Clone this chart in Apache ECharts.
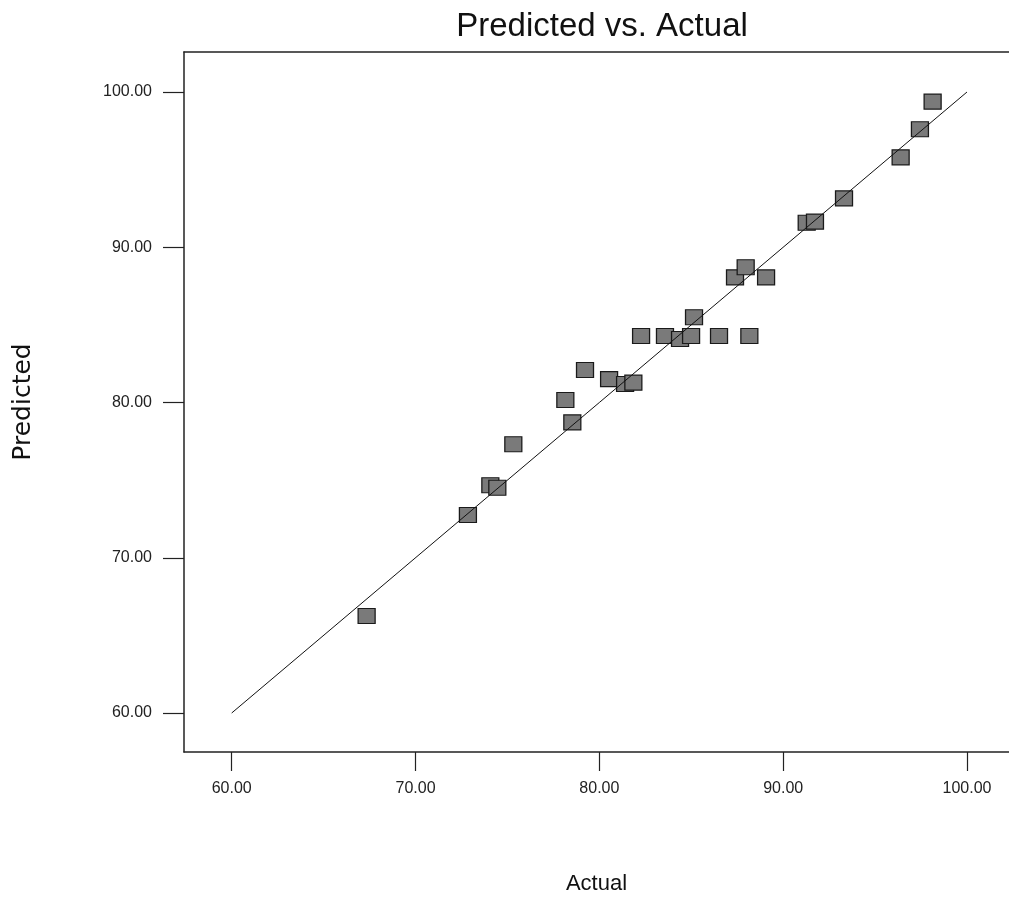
<!DOCTYPE html>
<html>
<head>
<meta charset="utf-8">
<title>Predicted vs. Actual</title>
<script src="https://cdn.jsdelivr.net/npm/echarts@6/dist/echarts.min.js"></script>
<style>
html, body { margin: 0; padding: 0; background: #fff; }
#chart { width: 1009px; height: 902px; }
</style>
</head>
<body>
<div id="chart"></div>
<script>
// values
const actual = [67.34, 72.85, 74.07, 74.45, 75.32, 78.15, 78.53, 79.22, 80.53, 81.40, 81.85,
  82.27, 83.57, 84.39, 84.99, 85.15, 86.51, 88.16, 87.38, 87.96, 89.07,
  91.28, 91.73, 93.31, 96.39, 97.44, 98.13]
const predicted = [66.25, 72.75, 74.67, 74.51, 77.31, 80.16, 78.72, 82.09, 81.51, 81.19, 81.28,
  84.28, 84.28, 84.09, 84.28, 85.49, 84.28, 84.28, 88.06, 88.71, 88.06,
  91.58, 91.65, 93.15, 95.79, 97.60, 99.38]
const tickValues = [60, 70, 80, 90, 100]
const fitLine = [60, 100]

const chart = echarts.init(document.getElementById('chart'))

const points = actual.map((a, i) => [a, predicted[i]])
const linePoints = fitLine.map(v => [v, v])

const labelFont = 'Liberation Sans, Arial, sans-serif'
const fmt = v => Number(v).toFixed(2)

const option = {
  backgroundColor: '#fff',
  animation: false,
  title: {
    text: 'Predicted vs. Actual',
    left: 597,
    top: 5,
    textAlign: 'center',
    textStyle: { fontFamily: labelFont, fontSize: 33, fontWeight: 'normal', color: '#111' }
  },
  grid: { left: 184, top: 52, right: 0, bottom: 150, containLabel: false },
  xAxis: [
    {
      type: 'value',
      min: 57.405,
      max: 102.285,
      name: 'Actual',
      nameLocation: 'middle',
      nameGap: 121,
      nameTextStyle: { fontFamily: labelFont, fontSize: 22, color: '#111' },
      axisLine: { onZero: false, lineStyle: { color: '#222', width: 1.5 } },
      axisTick: { show: true, length: 19, customValues: tickValues, lineStyle: { color: '#222', width: 1.2 } },
      axisLabel: { customValues: tickValues, margin: 29, formatter: fmt, fontFamily: labelFont, fontSize: 16, color: '#222' },
      splitLine: { show: false }
    },
    {
      type: 'value',
      position: 'top',
      min: 57.405,
      max: 102.285,
      axisLine: { show: true, onZero: false, lineStyle: { color: '#222', width: 1.5 } },
      axisTick: { show: false },
      axisLabel: { show: false },
      splitLine: { show: false }
    }
  ],
  yAxis: {
    type: 'value',
    min: 57.488,
    max: 102.577,
    name: 'Predicted',
    nameLocation: 'middle',
    nameGap: 148,
    nameTextStyle: { fontFamily: 'DejaVu Sans, sans-serif', fontSize: 25, color: '#111' },
    axisLine: { show: true, onZero: false, lineStyle: { color: '#222', width: 1.5 } },
    axisTick: { show: true, length: 21, customValues: tickValues, lineStyle: { color: '#222', width: 1.2 } },
    axisLabel: { customValues: tickValues, margin: 32, formatter: fmt, fontFamily: labelFont, fontSize: 16, color: '#222' },
    splitLine: { show: false }
  },
  series: [
    {
      type: 'scatter',
      data: points,
      symbol: 'rect',
      symbolSize: [17, 15],
      itemStyle: { color: '#7a7a7a', borderColor: '#1a1a1a', borderWidth: 1.2, opacity: 1 },
      z: 2
    },
    {
      type: 'line',
      data: linePoints,
      showSymbol: false,
      symbol: 'none',
      lineStyle: { color: '#111', width: 1 },
      z: 3
    }
  ]
}

chart.setOption(option)
</script>
</body>
</html>
